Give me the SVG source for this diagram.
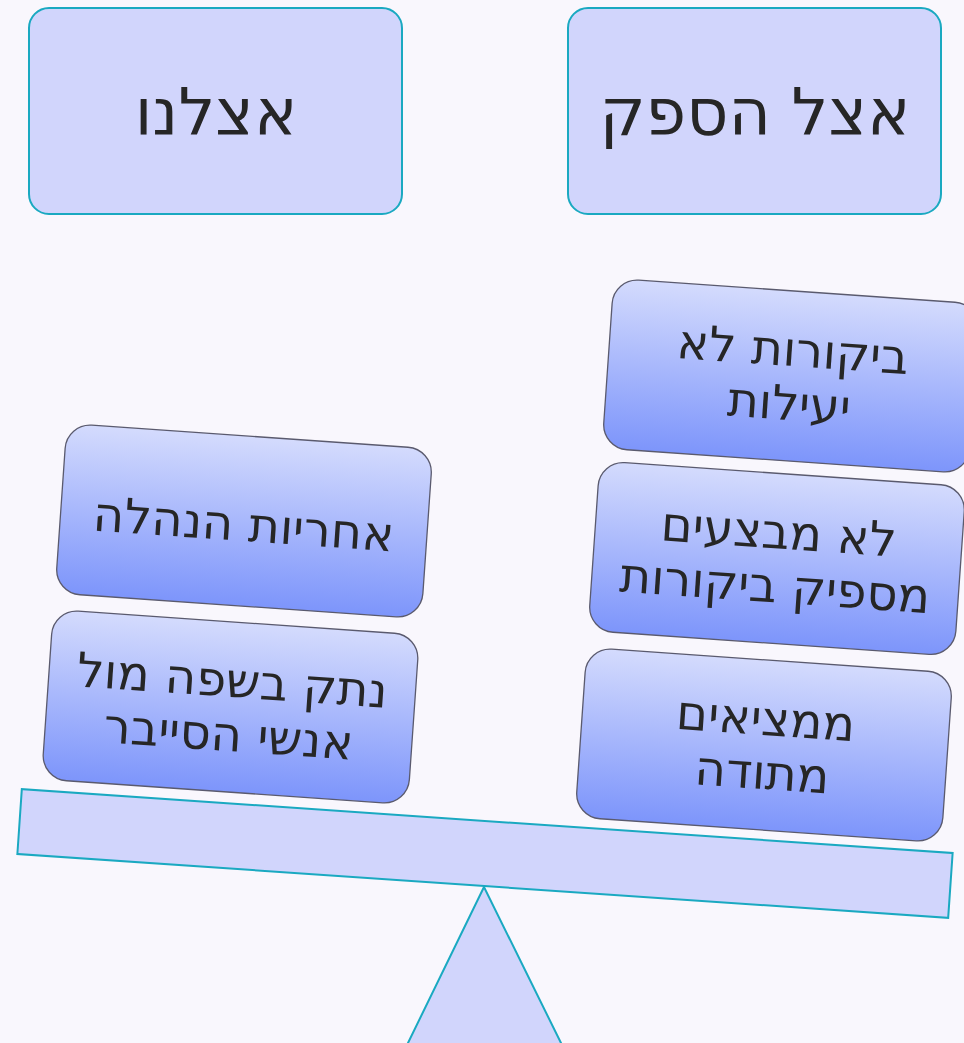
<svg xmlns="http://www.w3.org/2000/svg" width="964" height="1043" viewBox="0 0 964 1043">
<defs>
<linearGradient id="g" x1="0" y1="0" x2="0" y2="1">
<stop offset="0" stop-color="#d4dbfd"/>
<stop offset="1" stop-color="#7d95fb"/>
</linearGradient>
<style>
.hdr{fill:#d1d5fc;stroke:#1aa9c1;stroke-width:2}
.box{fill:url(#g);stroke:#5a5a6e;stroke-width:1.3}
.t{font-family:"DejaVu Sans",sans-serif;fill:#262626;text-anchor:middle}
.ht{font-size:65px}
.bt{font-size:48px}
.scale{fill:#d1d5fc;stroke:#1aa9c1;stroke-width:2}
</style>
</defs>
<rect width="964" height="1043" fill="#f9f7fd"/>
<g id="scale">
<rect class="scale" x="18.5" y="821" width="933" height="65" transform="rotate(3.93 485 853.5)"/>
<polygon class="scale" points="484,887 407,1045 562,1045"/>
</g>
<g id="hdr-left">
<rect class="hdr" x="29" y="8" width="373" height="206" rx="20"/>
<text class="t ht" x="216" y="135">אצלנו</text>
</g>
<g id="hdr-right">
<rect class="hdr" x="568" y="8" width="373" height="206" rx="20"/>
<text class="t ht" x="755" y="135">אצל הספק</text>
</g>
<g id="n-mgmt" transform="translate(244 521) rotate(4)">
<rect class="box" x="-183.5" y="-85" width="367" height="170" rx="25"/>
<text class="t bt" x="0" y="20">אחריות הנהלה</text>
</g>
<g id="n-lang" transform="translate(230.5 707) rotate(4)">
<rect class="box" x="-183.5" y="-85" width="367" height="170" rx="25"/>
<text class="t bt" x="0" y="-10">נתק בשפה מול</text>
<text class="t bt" x="0" y="44">אנשי הסייבר</text>
</g>
<g id="n-audits-ineff" transform="translate(791 376) rotate(4)">
<rect class="box" x="-183.5" y="-85" width="367" height="170" rx="25"/>
<text class="t bt" x="0" y="-10">ביקורות לא</text>
<text class="t bt" x="0" y="44">יעילות</text>
</g>
<g id="n-audits-few" transform="translate(777 558.5) rotate(4)">
<rect class="box" x="-183.5" y="-85" width="367" height="170" rx="25"/>
<text class="t bt" x="0" y="-10">לא מבצעים</text>
<text class="t bt" x="0" y="44">מספיק ביקורות</text>
</g>
<g id="n-method" transform="translate(764 745) rotate(4)">
<rect class="box" x="-183.5" y="-85" width="367" height="170" rx="25"/>
<text class="t bt" x="0" y="-10">ממציאים</text>
<text class="t bt" x="0" y="44">מתודה</text>
</g>
<g id="connectors"/>
</svg>
